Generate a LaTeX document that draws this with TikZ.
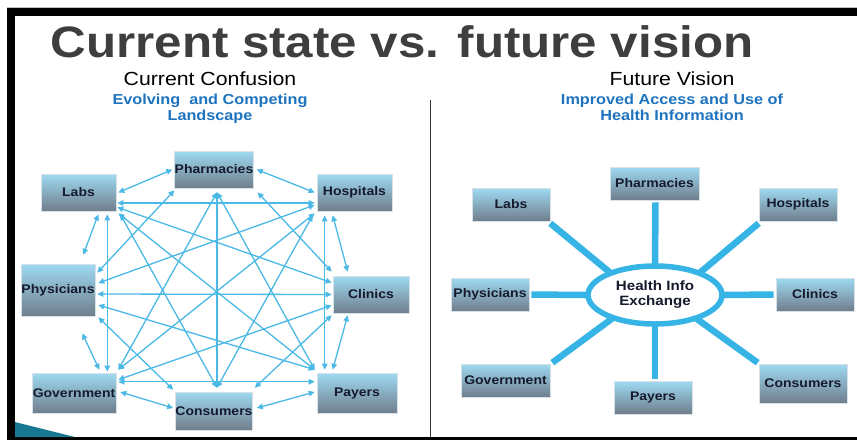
\documentclass[tikz,border=0pt]{standalone}
\usepackage{fontspec}
\setmainfont{Liberation Sans}[FakeStretch=1.12]
\usetikzlibrary{shapes.geometric,arrows.meta,calc}
\definecolor{arrblue}{RGB}{75,185,230}
\definecolor{spokeblue}{RGB}{55,180,230}
\definecolor{boxtop}{RGB}{158,218,242}
\definecolor{boxbot}{RGB}{112,126,140}
\definecolor{boxedge}{RGB}{215,225,232}
\definecolor{boxtext}{RGB}{22,26,45}
\definecolor{subblue}{RGB}{30,115,190}
\definecolor{titlegray}{RGB}{62,62,62}
\definecolor{wedgeteal}{RGB}{25,120,145}
\definecolor{divgray}{RGB}{50,50,50}
\pgfdeclarelayer{bg}
\pgfsetlayers{bg,main}
\begin{document}
\begin{tikzpicture}[x=1pt,y=-1pt,
  box/.style={draw=boxedge, line width=0.6pt, top color=boxtop, bottom color=boxbot,
    text=boxtext, font=\fontsize{12.5}{13}\selectfont\bfseries, inner sep=0pt, anchor=center},
  arr/.style={arrblue, line width=1.3pt, {Triangle[length=6pt,width=5.5pt]}-{Triangle[length=6pt,width=5.5pt]}},
  spoke/.style={spokeblue, line width=6.5pt, shorten >=-4pt},
  lbl/.style={inner sep=0pt, anchor=base},
  head/.style={lbl, font=\fontsize{19}{20}\selectfont, text=black},
  sub/.style={lbl, font=\fontsize{14.5}{15}\selectfont\bfseries, text=subblue},
]
\begin{pgfonlayer}{bg}
\fill[white] (0,0) rectangle (857,440);
\end{pgfonlayer}
\useasboundingbox (0,0) rectangle (857,440);
% frame
\draw[gray!50, line width=0.8pt] (7,7.6) -- (857,7.6);
\fill[black] (7,8) rectangle (857,16);
\fill[black] (7,8) rectangle (15,440);
\fill[black] (7,437) rectangle (857,440);
\fill[wedgeteal] (15,422) -- (75,437) -- (15,437) -- cycle;
\draw[divgray, line width=1.8pt] (430.5,100) -- (430.5,437);

% titles
\node[lbl, text=titlegray, font=\fontsize{44}{44}\selectfont\bfseries] (title) at (402,57) {Current state vs. future vision};
\node[head] (lhead) at (210,85) {Current Confusion};
\node[sub] (lsub1) at (210,104) {Evolving\ \ and Competing};
\node[sub] (lsub2) at (210,120) {Landscape};
\node[head] (rhead) at (672,85) {Future Vision};
\node[sub] (rsub1) at (672,104) {Improved Access and Use of};
\node[sub] (rsub2) at (672,120) {Health Information};

% left boxes
\node[box, minimum width=74pt, minimum height=37pt] (lph) at (214,169.5) {Pharmacies};
\node[box, minimum width=75pt, minimum height=37pt] (llab) at (78.5,192.5) {Labs};
\node[box, minimum width=75pt, minimum height=37pt] (lhos) at (354.5,192.5) {Hospitals};
\node[box, minimum width=74pt, minimum height=52pt] (lphy) at (58,290) {Physicians};
\node[box, minimum width=76pt, minimum height=37pt] (lcli) at (371,294.5) {Clinics};
\node[box, minimum width=84pt, minimum height=40pt] (lgov) at (74,393) {Government};
\node[box, minimum width=74pt, minimum height=38pt] (lcon) at (214,411) {Consumers};
\node[box, minimum width=80pt, minimum height=40pt] (lpay) at (357,393) {Payers};

% left arrows
\draw[arr] ($(llab.east)+(2,0)$) -- ($(lph.west)+(-2,0)$);
\draw[arr] ($(lph.east)+(3,0)$) -- ($(lhos.west)+(-2,0)$);
\draw[arr] ($(llab.east)+(1,10.5)$) -- ($(lhos.west)+(-2,10.5)$);
\draw[arr] ($(llab.south east)+(-18,3)$) -- ($(lphy.north east)+(-12,-9)$);
\draw[arr] ($(llab.south east)+(-9,3)$) -- ($(lgov.north east)+(-9,-1)$);
\draw[arr] ($(llab.south east)+(1,-4)$) -- ($(lcli.north west)+(-1,7)$);
\draw[arr] ($(llab.south east)+(2,2)$) -- ($(lpay.north west)+(-2,-3)$);
\draw[arr] ($(llab.south east)+(4,3)$) -- ($(lcon.north)+(3,-4)$);
\draw[arr] ($(lphy.north east)+(2,9)$) -- ($(lph.south west)+(0,2)$);
\draw[arr] ($(lphy.east)+(3,-7)$) -- ($(lhos.west)+(-2,12.5)$);
\draw[arr] ($(lphy.east)+(2,4)$) -- ($(lcli.west)+(-1,0)$);
\draw[arr] ($(lphy.east)+(3,15)$) -- ($(lpay.north west)+(-2,-3)$);
\draw[arr] ($(lphy.south east)+(3,1)$) -- ($(lcon.north west)+(-2,-2)$);
\draw[arr] ($(lphy.south east)+(-13,17)$) -- ($(lgov.north east)+(-17,-3)$);
\draw[arr] ($(lph.south)+(3,4)$) -- ($(lcon.north)+(3,-4)$);
\draw[arr] ($(lph.south)+(3,4)$) -- ($(lgov.north east)+(2,-3)$);
\draw[arr] ($(lph.south)+(3,4)$) -- ($(lpay.north west)+(-2,-3)$);
\draw[arr] ($(lph.south east)+(4,4)$) -- ($(lcli.north west)+(-1,-4)$);
\draw[arr] ($(lhos.south west)+(16,4)$) -- ($(lcli.north west)+(15,-4)$);
\draw[arr] ($(lhos.south west)+(8,4)$) -- ($(lpay.north west)+(8,-3)$);
\draw[arr] ($(lhos.south west)+(-2,2)$) -- ($(lgov.north east)+(2,-3)$);
\draw[arr] ($(lhos.south west)+(-4,4)$) -- ($(lcon.north)+(3,-4)$);
\draw[arr] ($(lcli.south west)+(15,2)$) -- ($(lpay.north west)+(16,-3)$);
\draw[arr] ($(lcli.south west)+(-1,-8)$) -- ($(lgov.north east)+(2,7)$);
\draw[arr] ($(lcli.south west)+(-1,2)$) -- ($(lcon.north east)+(2,-4)$);
\draw[arr] ($(lgov.north east)+(2,9)$) -- ($(lpay.north west)+(-2,9)$);
\draw[arr] ($(lgov.east)+(4,-1)$) -- ($(lcon.west)+(-2,-3)$);
\draw[arr] ($(lcon.east)+(4,-3)$) -- ($(lpay.west)+(-2,-1)$);

% right boxes
\node[box, minimum width=89pt, minimum height=33pt] (rph) at (654.5,183.5) {Pharmacies};
\node[box, minimum width=78pt, minimum height=33pt] (rlab) at (511,204.5) {Labs};
\node[box, minimum width=78pt, minimum height=33pt] (rhos) at (798,204.5) {Hospitals};
\node[box, minimum width=78pt, minimum height=33pt] (rphy) at (490,294.5) {Physicians};
\node[box, minimum width=78pt, minimum height=33pt] (rcli) at (815,294.5) {Clinics};
\node[box, minimum width=89pt, minimum height=33pt] (rgov) at (505.5,380.5) {Government};
\node[box, minimum width=78pt, minimum height=33pt] (rpay) at (653,397.5) {Payers};
\node[box, minimum width=88pt, minimum height=39pt] (rcon) at (803,383.5) {Consumers};

% hub
\node[ellipse, draw=spokeblue, line width=5.5pt, fill=white, minimum width=134pt, minimum height=58pt,
  inner sep=0pt, align=center, font=\fontsize{13.5}{15}\selectfont\bfseries, text=boxtext] (hie) at (655,295) {Health Info\\Exchange};

\begin{pgfonlayer}{bg}
\draw[spoke] ($(rph.south)+(1,2)$) -- (hie.90);
\draw[spoke] ($(rlab.south east)+(0,2)$) -- (hie.153);
\draw[spoke] ($(rhos.south west)+(0,2)$) -- (hie.27);
\draw[spoke] ($(rphy.east)+(2,0)$) -- (hie.180);
\draw[spoke] ($(rcli.west)+(-2,0)$) -- (hie.0);
\draw[spoke] ($(rgov.north east)+(2,-1)$) -- (hie.209);
\draw[spoke] ($(rpay.north)+(2,-2)$) -- (hie.270);
\draw[spoke] ($(rcon.north west)+(-1,-1)$) -- (hie.330);
\end{pgfonlayer}
\end{tikzpicture}
\end{document}
